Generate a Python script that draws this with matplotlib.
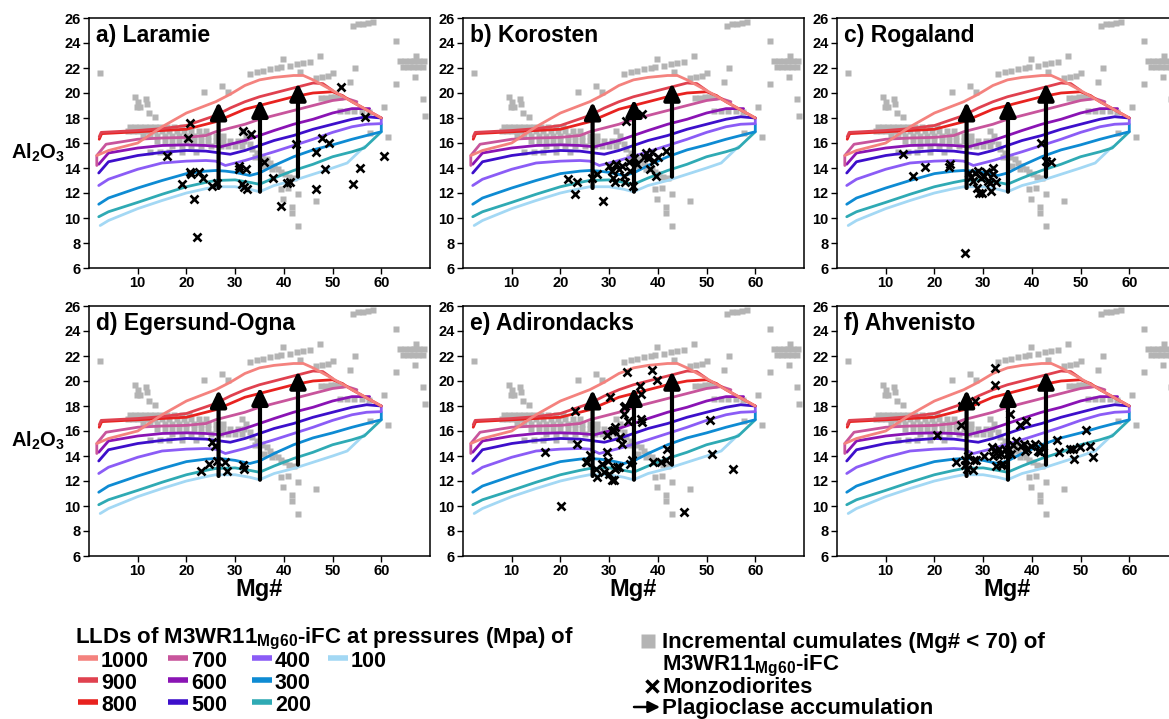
import matplotlib
matplotlib.use('Agg')
import matplotlib.pyplot as plt

plt.rcParams['font.family'] = ['Liberation Sans', 'DejaVu Sans']
plt.rcParams['font.weight'] = 'bold'
plt.rcParams['mathtext.fontset'] = 'custom'
plt.rcParams['mathtext.rm'] = 'Liberation Sans:bold'
plt.rcParams['mathtext.bf'] = 'Liberation Sans:bold'

# --- LLDs of M3WR11Mg60-iFC (Mg#, Al2O3), one per pressure ---
pressures = [1000, 900, 800, 700, 600, 500, 400, 300, 200, 100]
colors = ['#F4827E', '#E0414F', '#E8221F', '#C8559C', '#8A14B4',
          '#3D0FCB', '#8B5CF6', '#0E8BD3', '#2FAAB4', '#A3D8F4']

x1000 = [1.6, 4, 10, 15, 20, 26, 29, 32, 35, 38, 42, 44, 46, 50, 54, 57, 60]
y1000 = [15.0, 15.4, 16.0, 17.3, 18.4, 19.3, 19.9, 20.6, 21.05, 21.25, 21.4, 21.4, 21.05, 20.2, 19.3, 18.65, 18.0]
x900 = [2.1, 2.5, 10, 15, 20, 26, 29, 32, 35, 38, 42, 46, 48, 50]
y900 = [16.5, 16.85, 17.0, 17.15, 17.4, 18.2, 18.8, 19.3, 19.7, 20.0, 20.4, 20.8, 20.75, 20.2]
x800 = [2.1, 2.6, 10, 15, 20, 26, 29, 32, 35, 38, 42, 46, 50, 52, 54, 57, 60]
y800 = [16.3, 16.75, 16.9, 17.0, 17.1, 17.7, 18.2, 18.7, 19.0, 19.3, 19.7, 20.0, 20.1, 19.8, 19.3, 18.65, 18.0]
x700 = [1.6, 1.6, 3.5, 10, 15, 20, 24, 26, 29, 32, 35, 38, 42, 46, 50, 53, 55]
y700 = [14.2, 15.0, 15.9, 16.3, 16.4, 16.45, 16.6, 16.9, 17.2, 17.5, 17.9, 18.2, 18.6, 19.0, 19.4, 19.55, 19.3]
x600 = [2.0, 4, 10, 15, 20, 24, 27, 29, 32, 35, 38, 42, 46, 50, 54, 57.6]
y600 = [14.3, 15.2, 15.6, 15.8, 15.85, 15.8, 15.7, 15.9, 16.2, 16.6, 17.0, 17.5, 17.9, 18.4, 18.75, 18.75]
x500 = [2.0, 4, 10, 15, 20, 24, 27, 29, 32, 35, 38, 42, 46, 50, 54, 57, 60]
y500 = [13.6, 14.5, 15.0, 15.25, 15.4, 15.35, 15.2, 15.1, 15.4, 15.8, 16.2, 16.6, 17.1, 17.5, 17.9, 18.1, 18.0]
x400 = [2.0, 4, 10, 15, 20, 24, 26, 28, 30, 32, 35, 38, 42, 46, 50, 54, 57, 60, 60]
y400 = [12.6, 13.1, 13.9, 14.4, 14.55, 14.6, 14.55, 14.2, 14.4, 14.6, 14.95, 15.3, 15.8, 16.3, 16.85, 17.3, 17.5, 17.55, 18.0]
x300 = [2.0, 4, 10, 15, 20, 24, 26, 28, 30, 33, 35, 38, 42, 46, 50, 54, 57, 60, 60]
y300 = [11.1, 11.6, 12.4, 13.0, 13.55, 13.75, 13.8, 13.75, 13.65, 13.4, 13.6, 14.2, 14.9, 15.45, 15.85, 16.3, 16.6, 16.9, 17.5]
x200 = [2.0, 4, 10, 15, 20, 24, 26, 30, 33, 35, 38, 42, 46, 50, 54, 56.5, 60]
y200 = [10.1, 10.5, 11.25, 11.9, 12.5, 12.85, 13.0, 13.05, 12.85, 12.7, 13.2, 13.8, 14.3, 14.9, 15.3, 15.6, 16.9]
x100 = [2.3, 4, 10, 15, 20, 24, 26, 30, 33, 35, 38, 42, 46, 50, 53, 56.5]
y100 = [9.4, 9.8, 10.75, 11.4, 12.0, 12.35, 12.5, 12.5, 12.3, 12.1, 12.6, 13.0, 13.5, 14.0, 14.4, 15.7]
lld_x = [x1000, x900, x800, x700, x600, x500, x400, x300, x200, x100]
lld_y = [y1000, y900, y800, y700, y600, y500, y400, y300, y200, y100]

# --- incremental cumulates (Mg# < 70) ---
cum_x = [2.2,
         9.5, 10.0, 10.5, 9.9, 11.6, 11.9, 12.3, 13.6,
         23.7, 27.4, 28.6,
         8.5, 9.5, 10.5, 11.5, 12.5, 13.5, 14.5, 16.0, 17.5, 19.0, 20.5,
         8.0, 9.0, 10.0, 11.0, 12.0, 13.5, 15.0, 16.5, 18.0, 19.5, 21.0, 22.5, 24.0,
         11.0, 12.5, 14.0, 15.5, 17.0, 18.5, 20.0, 21.5, 23.0, 24.5, 26.0, 27.5,
         14.0, 15.5, 17.0, 18.5, 20.0, 21.5, 23.0, 24.5, 26.0, 27.5, 29.0, 30.5,
         17.0, 19.0, 21.0, 23.0, 25.0, 27.0, 28.5, 30.0, 31.5,
         12.5, 14.5, 16.5, 19.0, 22.0,
         31.5, 32.2, 31.8, 33.0,
         33.5, 34.5, 35.5, 36.5, 37.2, 38.0, 38.8, 39.5, 40.3, 41.0, 42.0, 34.0, 36.0, 37.5,
         39.5, 39.9, 41.6, 41.6, 43.0, 43.0, 46.7, 40.8,
         33.0, 34.4, 35.8, 37.2, 38.5, 39.5, 41.2, 42.6, 44.0, 45.3, 39.9, 47.4, 43.3,
         46.6, 47.8, 49.0, 50.1, 53.5, 54.6,
         47.6, 48.6, 49.6, 50.6, 51.5,
         51.5, 53.0, 54.5, 56.0, 57.5, 57.7,
         54.2, 55.2, 56.2, 57.3, 58.3,
         63.1, 63.1, 67.1,
         63.8, 64.8, 65.8, 66.8, 67.8, 68.8, 64.5, 65.5, 66.5, 67.5, 68.5,
         66.9, 68.6, 69.0, 60.5, 61.4]
cum_y = [21.6,
         19.7, 19.3, 18.9, 18.9, 19.5, 19.1, 18.4, 18.1,
         20.1, 20.6, 20.1,
         17.3, 17.3, 17.3, 17.3, 17.3, 17.3, 17.3, 17.3, 17.3, 17.3, 17.3,
         16.95, 16.95, 16.95, 16.95, 16.95, 16.95, 16.95, 16.95, 16.95, 16.95, 16.95, 16.95, 16.95,
         16.6, 16.6, 16.6, 16.6, 16.6, 16.6, 16.6, 16.6, 16.6, 16.6, 16.6, 16.6,
         16.2, 16.2, 16.2, 16.2, 16.2, 16.2, 16.2, 16.2, 16.2, 16.2, 16.2, 16.2,
         15.8, 15.8, 15.8, 15.8, 15.8, 15.8, 15.8, 15.8, 15.8,
         15.3, 15.3, 15.3, 15.3, 15.3,
         17.0, 16.6, 16.2, 15.9,
         15.5, 15.2, 14.9, 14.7, 14.4, 14.2, 13.9, 13.7, 13.5, 13.3, 13.2, 14.9, 14.2, 13.9,
         12.3, 11.5, 10.9, 10.4, 9.4, 11.9, 11.4, 12.4,
         21.5, 21.65, 21.8, 21.9, 22.0, 22.1, 22.2, 22.3, 22.4, 22.5, 22.7, 23.0, 21.7,
         21.2, 21.3, 21.4, 21.6, 20.9, 22.0,
         19.6, 19.6, 19.7, 19.7, 19.7,
         18.6, 18.6, 18.6, 18.6, 18.5, 16.8,
         25.4, 25.5, 25.5, 25.6, 25.7,
         24.2, 20.7, 23.0,
         22.6, 22.6, 22.6, 22.6, 22.6, 22.6, 22.1, 22.1, 22.1, 22.1, 22.1,
         21.3, 19.5, 18.2, 18.9, 16.5]

# --- plagioclase accumulation arrows (Mg#, Al2O3 start, Al2O3 end) ---
arrow_x = [26.6, 35.1, 42.9]
arrow_y0 = [12.4, 12.1, 13.3]
arrow_y1 = [19.3, 19.5, 20.8]

# --- monzodiorites per locality ---
titles = ['a) Laramie', 'b) Korosten', 'c) Rogaland',
          'd) Egersund-Ogna', 'e) Adirondacks', 'f) Ahvenisto']
mz_x_a = [16.0, 20.8, 20.4, 20.8, 20.9, 22.5, 23.5, 19.1, 21.5, 22.1, 25.2, 26.2, 30.7, 30.7, 32.2,
          31.6, 33.2, 31.4, 31.8, 32.4, 35.9, 37.8, 39.4, 40.6, 41.2, 42.5, 46.6, 46.7, 47.9, 48.4,
          49.2, 51.8, 54.2, 55.6, 56.6, 60.5]
mz_y_a = [15.0, 17.6, 16.4, 13.7, 13.5, 13.7, 13.2, 12.7, 11.5, 8.45, 12.6, 12.8, 14.2, 13.9, 13.9,
          17.0, 16.7, 12.7, 12.5, 12.3, 14.5, 13.2, 11.0, 12.8, 12.9, 15.9, 15.3, 12.3, 16.4, 13.95,
          16.0, 20.5, 12.7, 14.0, 18.05, 15.0]
mz_x_b = [21.6, 23.0, 23.5, 26.5, 27.5, 28.8, 30.0, 30.5, 30.8, 31.3, 31.5, 32.0, 32.6, 33.0, 33.5,
          33.2, 34.0, 34.3, 34.8, 35.2, 35.8, 36.7, 37.2, 37.5, 38.0, 38.4, 38.8, 39.3, 39.6, 40.1, 41.6]
mz_y_b = [13.1, 11.9, 12.9, 13.2, 13.5, 11.4, 14.2, 13.8, 13.2, 12.9, 14.3, 13.9, 14.2, 13.4, 17.8,
          12.9, 14.5, 13.8, 12.6, 14.8, 14.3, 18.3, 14.9, 15.2, 14.8, 13.9, 15.3, 14.6, 13.4, 14.9, 15.4]
mz_x_c = [13.5, 15.5, 18.0, 23.0, 23.2, 27.0, 27.5, 28.0, 28.3, 28.8, 29.0, 29.5, 29.8, 30.2, 30.5,
          31.0, 31.5, 32.0, 32.0, 32.6, 31.6, 29.2, 26.3, 41.9, 42.9, 43.9]
mz_y_c = [15.1, 13.4, 14.1, 14.1, 14.3, 13.6, 13.3, 13.0, 13.6, 12.4, 13.8, 13.2, 12.0, 13.4, 13.7,
          13.0, 12.8, 14.0, 13.5, 12.9, 12.2, 12.0, 7.2, 16.0, 14.6, 14.5]
mz_x_d = [23.0, 24.6, 25.3, 25.8, 26.2, 27.9, 28.3, 31.6, 31.9]
mz_y_d = [12.8, 13.4, 15.1, 14.8, 13.6, 13.5, 12.8, 13.3, 13.0]
mz_x_e = [16.8, 20.1, 23.0, 23.4, 25.2, 25.5, 26.1, 27.3, 27.6, 28.5, 29.0, 29.5, 29.7, 29.9, 30.2,
          29.6, 30.5, 30.5, 30.9, 30.9, 31.2, 31.2, 31.6, 32.0, 32.3, 32.6, 33.0, 33.1, 33.3, 33.6,
          33.8, 34.3, 34.7, 36.4, 36.5, 36.5, 36.8, 38.9, 39.1, 39.9, 40.6, 41.7, 41.9, 50.8, 51.1,
          55.5, 45.3]
mz_y_e = [14.3, 10.0, 17.6, 15.0, 13.5, 13.5, 14.1, 13.0, 12.3, 13.4, 12.7, 14.3, 13.6, 12.6, 18.7,
          15.7, 16.0, 12.1, 12.1, 16.1, 16.3, 13.0, 13.1, 13.1, 15.5, 15.0, 17.4, 17.9, 18.0, 20.7,
          16.8, 13.4, 13.7, 19.6, 19.0, 17.0, 16.7, 20.9, 13.5, 20.1, 13.5, 13.7, 14.6, 16.9, 14.2,
          13.0, 9.5]
mz_x_f = [20.5, 24.5, 25.5, 25.7, 26.2, 26.3, 26.6, 26.9, 28.0, 28.1, 28.4, 28.6, 30.2, 31.9, 32.0,
          32.3, 32.5, 32.5, 32.7, 33.0, 33.2, 33.6, 33.7, 34.1, 34.4, 35.0, 35.4, 35.6, 35.8, 36.1,
          36.8, 37.5, 37.8, 38.4, 38.5, 38.9, 39.1, 39.8, 40.6, 41.3, 41.6, 42.3, 45.1, 45.5, 47.8,
          48.4, 48.7, 49.9, 51.2, 51.9, 52.6]
mz_y_f = [15.7, 13.5, 16.45, 18.0, 13.7, 13.3, 13.0, 14.0, 12.9, 13.7, 18.4, 13.7, 14.0, 14.7, 14.0,
          14.4, 21.05, 19.7, 13.2, 14.1, 14.6, 13.3, 14.2, 13.4, 14.6, 14.2, 14.6, 17.4, 14.2, 14.9,
          15.2, 16.5, 14.8, 15.0, 14.4, 16.8, 14.6, 14.8, 15.0, 14.4, 14.3, 14.8, 15.3, 14.3, 14.6,
          14.6, 13.8, 14.7, 16.1, 14.8, 13.9]
mz_x = [mz_x_a, mz_x_b, mz_x_c, mz_x_d, mz_x_e, mz_x_f]
mz_y = [mz_y_a, mz_y_b, mz_y_c, mz_y_d, mz_y_e, mz_y_f]

W, H = 1169, 719
fig = plt.figure(figsize=(W / 100, H / 100), dpi=100)

lefts = [89, 463, 837]
tops = [18, 306]
aw, ah = 341, 250

for k in range(6):
    row, col = divmod(k, 3)
    L, T = lefts[col], tops[row]
    ax = fig.add_axes([L / W, 1 - (T + ah) / H, aw / W, ah / H])
    ax.plot(cum_x, cum_y, 's', color='#B4B4B4', ms=4.3, mec='none', zorder=1)
    for xs, ys, c in zip(lld_x[::-1], lld_y[::-1], colors[::-1]):
        ax.plot(xs, ys, color=c, lw=2.0, zorder=2, solid_capstyle='round')
    ax.plot(mz_x[k], mz_y[k], 'x', color='k', ms=5.8, mew=1.9, zorder=3)
    for xa, y0, y1 in zip(arrow_x, arrow_y0, arrow_y1):
        ax.annotate('', xy=(xa, y1), xytext=(xa, y0),
                    arrowprops=dict(arrowstyle='-|>,head_length=0.5,head_width=0.24',
                                    lw=3, color='k', mutation_scale=20,
                                    shrinkA=0, shrinkB=0), zorder=4)
    ax.set_xlim(0, 70)
    ax.set_ylim(6, 26)
    ax.set_xticks([10, 20, 30, 40, 50, 60])
    ax.set_yticks(range(6, 27, 2))
    ax.tick_params(labelsize=10.5, length=4, width=1, pad=2)
    for s in ax.spines.values():
        s.set_linewidth(1.1)
    ax.text(0.02, 0.975, titles[k], transform=ax.transAxes, fontsize=16.5,
            fontweight='bold', ha='left', va='top')
    if col == 0:
        ax.set_ylabel(r'Al$_\mathregular{2}$O$_\mathregular{3}$', rotation=0,
                      fontsize=14.5, fontweight='bold', ha='center', va='center')
        ax.yaxis.set_label_coords(-0.15, 0.46)
    if row == 1:
        ax.set_xlabel('Mg#', fontsize=17, fontweight='bold', labelpad=0)

# --- legend drawn in pixel coordinates ---
lg = fig.add_axes([0, 0, 1, 1])
lg.set_xlim(0, W)
lg.set_ylim(H, 0)
lg.axis('off')
fs = 16
lg.text(75, 643, r'LLDs of M3WR11$_\mathregular{Mg60}$-iFC at pressures (Mpa) of',
        fontsize=fs, fontweight='bold', ha='left', va='baseline')
col_x = [78, 168, 252, 328]
row_y = [658, 680, 702]
for i, (p, c) in enumerate(zip(pressures, colors)):
    cx = col_x[i // 3]
    ry = row_y[i % 3]
    lg.plot([cx, cx + 20], [ry, ry], color=c, lw=4, solid_capstyle='butt')
    lg.text(cx + 23, ry + 9, str(p), fontsize=15.5, fontweight='bold',
            ha='left', va='baseline')

lg.plot([648], [641], 's', color='#B4B4B4', ms=10, mec='none')
lg.text(662, 648, 'Incremental cumulates (Mg# < 70) of', fontsize=fs,
        fontweight='bold', ha='left', va='baseline')
lg.text(662, 670, r'M3WR11$_\mathregular{Mg60}$-iFC', fontsize=fs,
        fontweight='bold', ha='left', va='baseline')
lg.plot([652], [686], 'x', color='k', ms=8, mew=2.5)
lg.text(662, 693, 'Monzodiorites', fontsize=fs, fontweight='bold',
        ha='left', va='baseline')
lg.annotate('', xy=(660, 707), xytext=(634, 707),
            arrowprops=dict(arrowstyle='-|>,head_length=0.5,head_width=0.25',
                            lw=1.8, color='k', mutation_scale=14,
                            shrinkA=0, shrinkB=0))
lg.text(662, 714, 'Plagioclase accumulation', fontsize=fs, fontweight='bold',
        ha='left', va='baseline')

fig.savefig('out.png', dpi=100)
